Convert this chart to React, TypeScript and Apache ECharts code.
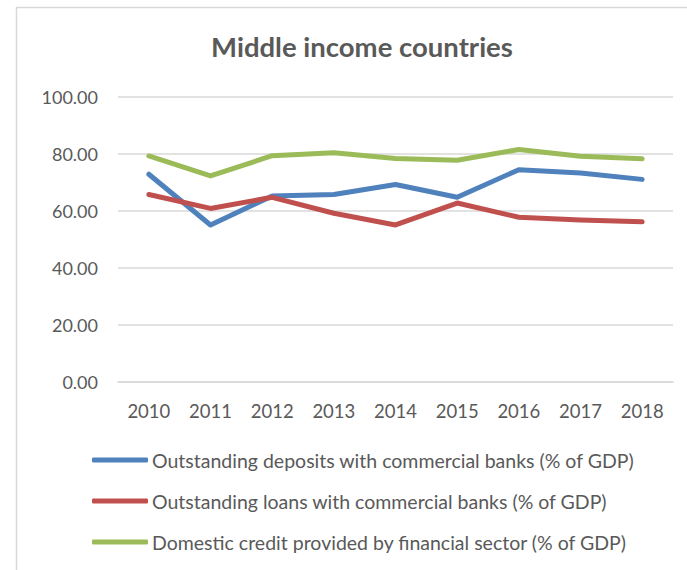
import React, { useEffect, useRef } from "react";
import * as echarts from "echarts";

const titleText = "Middle income countries";
const years = ["2010", "2011", "2012", "2013", "2014", "2015", "2016", "2017", "2018"];
const deposits = [72.9, 55.1, 65.3, 65.8, 69.3, 64.8, 74.5, 73.3, 71.1];
const loans = [65.8, 60.9, 64.8, 59.2, 55.1, 62.8, 57.8, 56.8, 56.2];
const credit = [79.3, 72.3, 79.4, 80.4, 78.4, 77.8, 81.6, 79.2, 78.3];
const seriesNames = [
  "Outstanding deposits with commercial banks (% of GDP)",
  "Outstanding loans with commercial banks (% of GDP)",
  "Domestic credit provided by financial sector (% of GDP)",
];
const colors = ["#4F81BD", "#C0504D", "#9BBB59"];

const FONT = "Lato, 'Open Sans', sans-serif";

export default function App() {
  const ref = useRef<HTMLDivElement>(null);
  useEffect(() => {
    if (!ref.current) return;
    const chart = echarts.init(ref.current, undefined, { renderer: "svg" });
    const data = [deposits, loans, credit];
    chart.setOption({
      animation: false,
      backgroundColor: "#ffffff",
      graphic: [
        {
          type: "rect",
          shape: { x: 16.5, y: 7.5, width: 700, height: 600 },
          style: { fill: "none", stroke: "#D9D9D9", lineWidth: 1.5 },
          silent: true,
          z: -1,
        },
        {
          type: "text",
          x: 362,
          y: 46,
          style: {
            text: titleText,
            fontFamily: FONT,
            fontSize: 27.5,
            fontWeight: "bold",
            fill: "#595959",
            textAlign: "center",
            textVerticalAlign: "middle",
          },
          silent: true,
        },
      ],
      grid: { left: 118, right: 14, top: 97, bottom: 188 },
      xAxis: {
        type: "category",
        data: years,
        boundaryGap: true,
        axisLine: { show: true, lineStyle: { color: "#D9D9D9", width: 1.5 } },
        axisTick: { show: false },
        axisLabel: { margin: 19, fontFamily: FONT, fontSize: 18.5, color: "#595959" },
      },
      yAxis: {
        type: "value",
        min: 0,
        max: 100,
        interval: 20,
        axisLine: { show: false },
        axisTick: { show: false },
        splitLine: { lineStyle: { color: "#D9D9D9", width: 1.5 } },
        axisLabel: {
          margin: 20,
          fontFamily: FONT,
          fontSize: 18,
          color: "#595959",
          formatter: (v: number) => v.toFixed(2),
        },
      },
      legend: {
        orient: "vertical",
        left: 87,
        top: 445,
        itemGap: 21,
        itemWidth: 56,
        itemHeight: 5,
        icon: "roundRect",
        textStyle: { fontFamily: FONT, fontSize: 19.5, color: "#595959", padding: [0, 0, 0, -1] },
        data: seriesNames,
      },
      series: seriesNames.map((name, i) => ({
        name,
        type: "line",
        data: data[i],
        symbol: "none",
        color: colors[i],
        lineStyle: { width: 5, color: colors[i], cap: "round", join: "round" },
      })),
    });
    return () => chart.dispose();
  }, []);
  return (
    <div
      ref={ref}
      style={{ position: "fixed", left: 0, top: 0, width: 687, height: 570 }}
    />
  );
}
